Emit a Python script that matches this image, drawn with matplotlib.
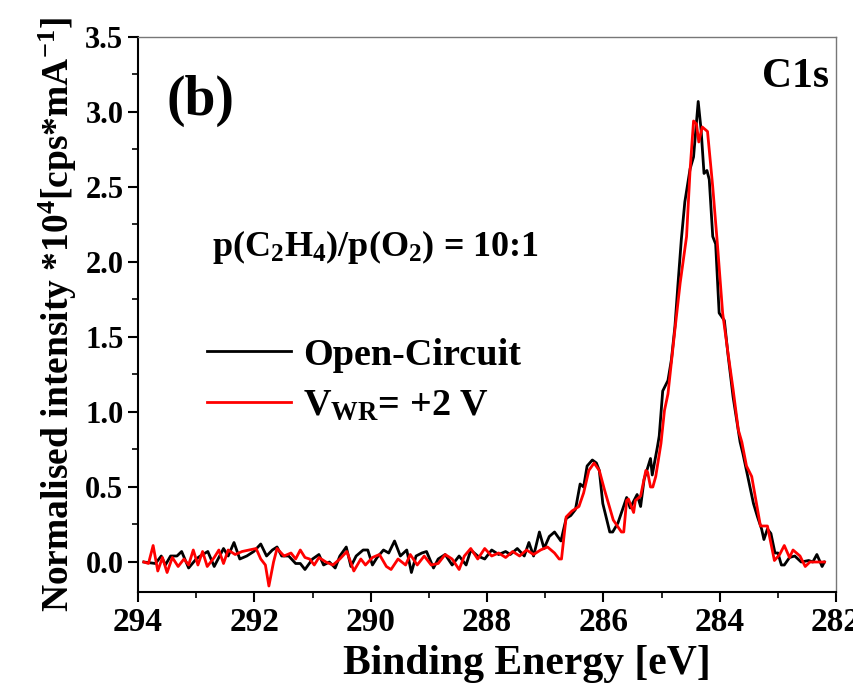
import numpy as np
import matplotlib
matplotlib.use('Agg')
import matplotlib.pyplot as plt
from matplotlib.ticker import MultipleLocator

# binding energy [eV] and normalised intensity
be_oc = [293.90, 293.70, 293.60, 293.53, 293.44, 293.33, 293.25, 293.13, 293.00, 292.93,
         292.80, 292.69, 292.53, 292.45, 292.35, 292.25, 292.13, 292.01, 291.89, 291.79,
         291.69, 291.61, 291.53, 291.41, 291.29, 291.21, 291.13, 291.00, 290.89, 290.81,
         290.71, 290.61, 290.53, 290.42, 290.34, 290.25, 290.13, 290.05, 289.97, 289.89,
         289.78, 289.69, 289.59, 289.49, 289.38, 289.30, 289.22, 289.12, 289.04, 288.92,
         288.84, 288.72, 288.60, 288.48, 288.36, 288.28, 288.16, 288.04, 287.92, 287.80,
         287.68, 287.60, 287.48, 287.36, 287.28, 287.20, 287.10, 287.02, 286.93, 286.84,
         286.73, 286.64, 286.56, 286.48, 286.40, 286.34, 286.28, 286.19, 286.12, 286.07,
         286.01, 285.89, 285.84, 285.75, 285.60, 285.54, 285.42, 285.36, 285.30, 285.19,
         285.16, 285.07, 285.04, 284.98, 284.89, 284.83, 284.77, 284.72, 284.66, 284.60,
         284.51, 284.45, 284.37, 284.32, 284.27, 284.22, 284.18, 284.12, 284.07, 284.01,
         283.92, 283.86, 283.77, 283.65, 283.60, 283.54, 283.42, 283.35, 283.28, 283.24,
         283.18, 283.12, 283.05, 283.00, 282.94, 282.89, 282.80, 282.71, 282.60, 282.47,
         282.40, 282.33, 282.24, 282.20]
int_oc = [0.00, -0.01, 0.04, -0.02, 0.04, 0.04, 0.07, -0.04, 0.02, 0.04,
          0.07, -0.03, 0.09, 0.04, 0.13, 0.02, 0.04, 0.07, 0.12, 0.04,
          0.08, 0.10, 0.04, 0.04, -0.01, -0.01, -0.05, 0.02, 0.05, -0.02,
          0.00, -0.04, 0.04, 0.10, -0.03, 0.04, 0.08, 0.08, -0.02, 0.03,
          0.08, 0.06, 0.14, 0.04, 0.08, -0.07, 0.04, 0.06, 0.07, -0.04,
          0.02, 0.05, -0.02, 0.04, -0.02, 0.08, 0.04, 0.02, 0.08, 0.05,
          0.07, 0.05, 0.09, 0.04, 0.13, 0.04, 0.20, 0.09, 0.17, 0.20,
          0.14, 0.29, 0.31, 0.35, 0.52, 0.50, 0.64, 0.68, 0.66, 0.61,
          0.39, 0.20, 0.20, 0.26, 0.43, 0.36, 0.45, 0.37, 0.55, 0.69,
          0.58, 0.77, 0.84, 1.14, 1.21, 1.35, 1.57, 1.84, 2.15, 2.40,
          2.62, 2.70, 3.07, 2.88, 2.59, 2.61, 2.55, 2.17, 2.12, 1.66,
          1.61, 1.39, 1.10, 0.80, 0.72, 0.61, 0.39, 0.30, 0.22, 0.15,
          0.22, 0.19, 0.06, 0.06, -0.02, -0.02, 0.03, 0.04, 0.00, 0.01,
          0.00, 0.05, -0.03, 0.00]

be_wr = [293.90, 293.82, 293.74, 293.66, 293.58, 293.50, 293.41, 293.31, 293.21, 293.13,
         293.05, 292.97, 292.89, 292.81, 292.69, 292.61, 292.53, 292.45, 292.33, 292.21,
         292.09, 291.97, 291.89, 291.81, 291.75, 291.67, 291.61, 291.49, 291.37, 291.29,
         291.21, 291.13, 291.05, 290.97, 290.89, 290.77, 290.65, 290.53, 290.41, 290.29,
         290.17, 290.09, 289.97, 289.85, 289.73, 289.65, 289.53, 289.40, 289.32, 289.20,
         289.08, 288.96, 288.84, 288.72, 288.60, 288.48, 288.39, 288.28, 288.16, 288.04,
         287.92, 287.80, 287.68, 287.56, 287.44, 287.32, 287.20, 287.08, 286.96, 286.84,
         286.76, 286.72, 286.64, 286.54, 286.42, 286.34, 286.25, 286.16, 286.07, 285.98,
         285.83, 285.69, 285.65, 285.60, 285.57, 285.48, 285.45, 285.36, 285.27, 285.24,
         285.19, 285.15, 285.10, 285.01, 284.95, 284.89, 284.77, 284.68, 284.57, 284.51,
         284.45, 284.40, 284.36, 284.30, 284.21, 284.12, 284.04, 283.95, 283.86, 283.77,
         283.68, 283.62, 283.54, 283.45, 283.30, 283.18, 283.06, 282.97, 282.89, 282.80,
         282.74, 282.62, 282.53, 282.45, 282.20]
int_wr = [0.00, -0.01, 0.11, -0.06, 0.03, -0.07, 0.03, -0.03, 0.02, -0.02,
          0.08, -0.02, 0.07, -0.03, 0.03, 0.08, -0.01, 0.08, 0.05, 0.07,
          0.08, 0.09, 0.02, -0.02, -0.16, 0.00, 0.09, 0.04, 0.06, 0.02,
          0.08, 0.03, 0.02, -0.02, 0.03, 0.00, -0.02, 0.02, 0.07, -0.06,
          0.02, -0.02, 0.03, 0.05, -0.03, -0.05, 0.02, -0.02, 0.05, -0.02,
          0.04, -0.02, -0.01, 0.05, 0.02, -0.05, 0.04, 0.09, 0.02, 0.09,
          0.04, 0.06, 0.03, 0.07, 0.04, 0.08, 0.05, 0.08, 0.10, 0.06,
          0.02, 0.02, 0.30, 0.34, 0.37, 0.46, 0.61, 0.66, 0.61, 0.48,
          0.28, 0.20, 0.20, 0.41, 0.42, 0.33, 0.41, 0.44, 0.61, 0.60,
          0.50, 0.50, 0.57, 0.79, 1.01, 1.12, 1.55, 1.86, 2.17, 2.61,
          2.94, 2.92, 2.80, 2.90, 2.87, 2.50, 2.12, 1.66, 1.40, 1.15,
          0.88, 0.80, 0.64, 0.57, 0.24, 0.24, 0.01, 0.05, 0.11, 0.03,
          0.08, 0.04, -0.03, 0.00, 0.00]

plt.rcParams['font.family'] = 'Liberation Serif'
plt.rcParams['font.weight'] = 'bold'
plt.rcParams['mathtext.fontset'] = 'custom'
plt.rcParams['mathtext.rm'] = 'Liberation Serif:bold'
plt.rcParams['mathtext.bf'] = 'Liberation Serif:bold'
plt.rcParams['mathtext.it'] = 'Liberation Serif:bold'
plt.rcParams['mathtext.default'] = 'rm'

fig = plt.figure(figsize=(8.54, 6.95), dpi=100)
ax = fig.add_axes([0.1616, 0.1482, 0.8174, 0.7986])

ax.plot(be_oc, int_oc, color='black', lw=2.0, label='Open-Circuit')
ax.plot(be_wr, int_wr, color='red', lw=2.0, label=r'V$_{\rm WR}$= +2 V')

ax.set_xlim(294, 282)
ax.set_ylim(-0.2, 3.5)
ax.xaxis.set_major_locator(MultipleLocator(2))
ax.xaxis.set_minor_locator(MultipleLocator(1))
ax.yaxis.set_major_locator(MultipleLocator(0.5))
ax.yaxis.set_minor_locator(MultipleLocator(0.25))
ax.yaxis.set_major_formatter(matplotlib.ticker.FormatStrFormatter('%.1f'))
ax.tick_params(which='major', direction='out', length=7, width=1.5, labelsize=22)
ax.tick_params(axis='x', which='major', labelsize=24)
ax.tick_params(which='minor', direction='out', length=4, width=1.2)
ax.tick_params(top=False, right=False)
for s in ['left', 'bottom']:
    ax.spines[s].set_linewidth(1.5)
for s in ['top', 'right']:
    ax.spines[s].set_linewidth(1.0)
    ax.spines[s].set_color('#777777')

ax.set_xlabel('Binding Energy [eV]', fontsize=30, fontweight='bold', labelpad=4)
ax.xaxis.set_label_coords(0.557, -0.095)
ax.set_ylabel(r'Normalised intensity *10$^{4}$[cps*mA$^{-1}$]', fontsize=27,
              fontweight='bold', labelpad=4)

ax.text(0.09, 0.885, '(b)', transform=ax.transAxes, fontsize=40, fontweight='bold',
        ha='center', va='center')
ax.text(0.99, 0.928, 'C1s', transform=ax.transAxes, fontsize=30, fontweight='bold',
        ha='right', va='center')
ax.text(0.106, 0.622, r'p(C$_{2}$H$_{4}$)/p(O$_{2}$) = 10:1', transform=ax.transAxes,
        fontsize=26, fontweight='bold', ha='left', va='center')

ax.legend(loc='upper left', bbox_to_anchor=(0.05, 0.52), frameon=False,
          handlelength=2.2, handletextpad=0.3, labelspacing=0.4,
          prop={'weight': 'bold', 'size': 27.5})

fig.savefig('out.png', dpi=100)
